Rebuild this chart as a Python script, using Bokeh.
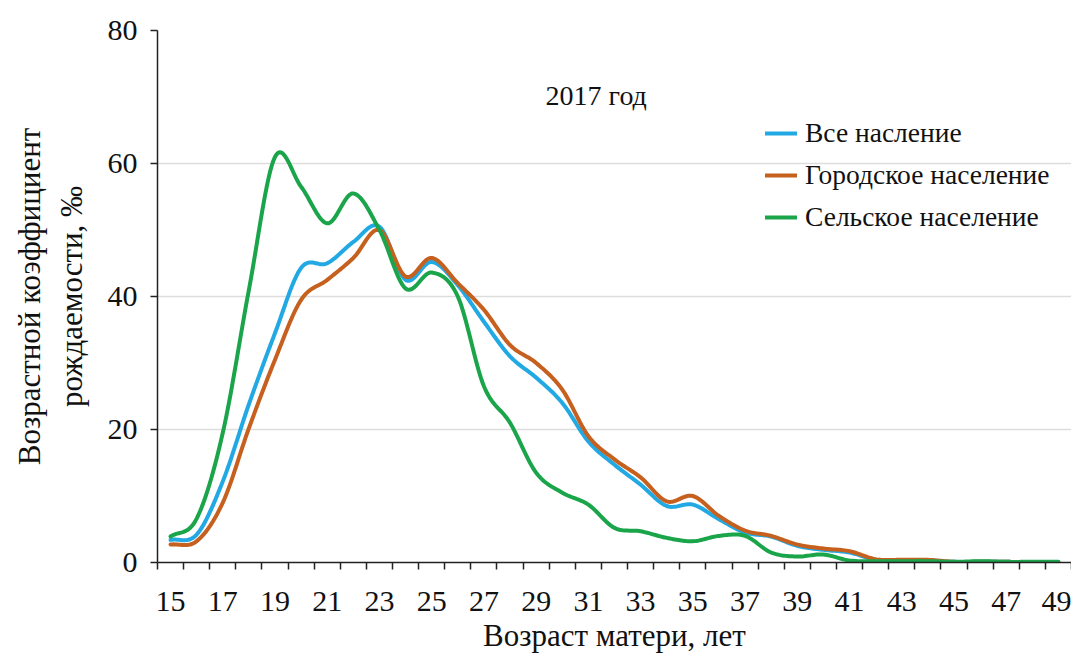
import numpy as np
from bokeh.plotting import figure
from bokeh.models import FixedTicker, Label, Legend, LegendItem, Range1d
from bokeh.embed import file_html
from bokeh.resources import INLINE

ages = list(range(15, 50))
all_pop = [3.4, 4.2, 12.2, 23.8, 34.5, 44.3, 45.0, 48.2, 50.5, 42.5,
           45.2, 41.7, 36.2, 31.0, 27.8, 24.0, 18.2, 14.7, 11.7, 8.5,
           8.7, 6.5, 4.5, 3.9, 2.5, 1.9, 1.5, 0.4, 0.3, 0.3,
           0.1, 0.1, 0.1, 0.05, 0.05]
urban = [2.7, 3.2, 9.0, 20.2, 30.5, 39.5, 42.5, 45.8, 50.0, 43.0,
         45.8, 42.0, 38.0, 32.7, 30.0, 26.0, 19.0, 15.5, 12.8, 9.2,
         10.0, 7.0, 4.8, 4.0, 2.7, 2.1, 1.7, 0.5, 0.4, 0.4,
         0.1, 0.1, 0.1, 0.05, 0.05]
rural = [3.9, 6.6, 19.5, 41.0, 61.0, 56.5, 51.0, 55.5, 50.0, 41.2,
         43.6, 40.0, 26.5, 21.0, 13.5, 10.5, 8.7, 5.2, 4.7, 3.7,
         3.2, 4.0, 4.0, 1.5, 0.9, 1.2, 0.3, 0.2, 0.2, 0.2,
         0.1, 0.2, 0.1, 0.1, 0.1]
series_names = ["Все насление", "Городское население", "Сельское население"]
colors = ["#22A9E3", "#C5601E", "#1BA54B"]
x_tick_labels = [str(a) for a in range(15, 50, 2)]
y_ticks = [0, 20, 40, 60, 80]

FONT = "Liberation Serif"


def smooth(xs, ys, n=16):
    """Catmull-Rom rendering of the polyline (visual smoothing like Excel)."""
    xs = np.asarray(xs, float)
    ys = np.asarray(ys, float)
    px = np.concatenate([[2 * xs[0] - xs[1]], xs, [2 * xs[-1] - xs[-2]]])
    py = np.concatenate([[2 * ys[0] - ys[1]], ys, [2 * ys[-1] - ys[-2]]])
    ox, oy = [], []
    t = np.linspace(0, 1, n, endpoint=False)
    for i in range(1, len(px) - 2):
        for arr, out in ((px, ox), (py, oy)):
            p0, p1, p2, p3 = arr[i - 1], arr[i], arr[i + 1], arr[i + 2]
            out.extend(0.5 * ((2 * p1) + (-p0 + p2) * t
                              + (2 * p0 - 5 * p1 + 4 * p2 - p3) * t ** 2
                              + (-p0 + 3 * p1 - 3 * p2 + p3) * t ** 3))
    ox.append(xs[-1])
    oy.append(ys[-1])
    return ox, oy


p = figure(width=1071, height=655, output_backend="svg", toolbar_location=None,
           x_range=Range1d(14.5, 49.5), y_range=Range1d(0, 80),
           min_border_left=157, min_border_right=0, min_border_top=30,
           min_border_bottom=92)
p.outline_line_color = None
p.background_fill_color = "white"
p.border_fill_color = "white"

p.xgrid.visible = False
p.ygrid.grid_line_color = "#DDDDDD"
p.ygrid.grid_line_width = 1.5
p.ygrid.ticker = FixedTicker(ticks=y_ticks)

# X axis (category style: ticks between categories)
xa = p.xaxis[0]
xa.ticker = FixedTicker(ticks=[int(s) for s in x_tick_labels],
                        minor_ticks=[a - 0.5 for a in ages] + [49.5])
xa.major_tick_out = 0
xa.major_tick_in = 0
xa.minor_tick_out = 7
xa.minor_tick_in = 0
xa.minor_tick_line_color = "#222222"
xa.minor_tick_line_width = 1.5
xa.axis_line_color = "#222222"
xa.axis_line_width = 1.5
xa.major_label_text_font = FONT
xa.major_label_text_font_size = "30px"
xa.major_label_text_color = "#111111"
xa.major_label_standoff = 22
xa.axis_label = "Возраст матери, лет"
xa.axis_label_text_font = FONT
xa.axis_label_text_font_size = "31px"
xa.axis_label_text_font_style = "normal"
xa.axis_label_text_color = "#111111"
xa.axis_label_standoff = 4

ya = p.yaxis[0]
ya.ticker = FixedTicker(ticks=y_ticks)
ya.minor_tick_line_color = None
ya.major_tick_out = 7
ya.major_tick_in = 0
ya.major_tick_line_color = "#222222"
ya.major_tick_line_width = 1.5
ya.axis_line_color = "#222222"
ya.axis_line_width = 1.5
ya.major_label_text_font = FONT
ya.major_label_text_font_size = "30px"
ya.major_label_text_color = "#111111"
ya.major_label_standoff = 13
ya.axis_label = "Возрастной коэффициент\nрождаемости, ‰"
ya.axis_label_text_font = FONT
ya.axis_label_text_font_size = "31px"
ya.axis_label_text_font_style = "normal"
ya.axis_label_text_color = "#111111"
ya.axis_label_standoff = 16

renderers = []
for vals, col in zip([all_pop, urban, rural], colors):
    sx, sy = smooth(ages, vals)
    r = p.line(sx, sy, line_color=col, line_width=4, line_join="round",
               line_cap="round")
    renderers.append(r)

legend = Legend(items=[LegendItem(label=n, renderers=[r])
                       for n, r in zip(series_names, renderers)],
                location=(608, 329), orientation="vertical",
                border_line_color=None, background_fill_alpha=0,
                label_text_font=FONT, label_text_font_size="27.5px",
                label_text_color="#111111",
                glyph_width=32, glyph_height=20, label_height=28,
                label_standoff=8, spacing=10, padding=0, margin=0)
p.add_layout(legend)

p.add_layout(Label(x=31.3, y=70.2, text="2017 год", text_font=FONT,
                   text_font_size="28px", text_color="#111111",
                   text_align="center", text_baseline="middle"))

open("out.html", "w").write(file_html(p, INLINE))
